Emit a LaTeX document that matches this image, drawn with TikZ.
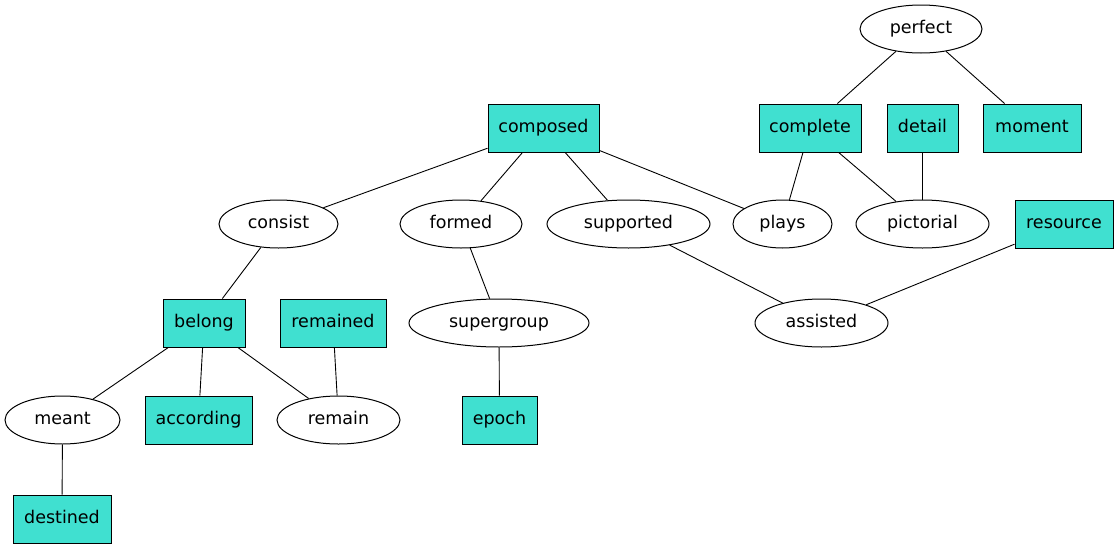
\documentclass[tikz,border=0pt]{standalone}
\usepackage{fontspec}
\setmainfont{DejaVu Sans}
\usetikzlibrary{shapes.geometric}
\definecolor{turq}{HTML}{40E0D0}
\begin{document}
\begin{tikzpicture}[x=1pt,y=-1pt,
  every node/.style={font=\fontsize{17.5}{20}\selectfont, inner sep=0pt, line width=1pt, text height=13pt, text depth=3.5pt},
  ell/.style={draw, ellipse, fill=white, minimum height=48pt},
  box/.style={draw, rectangle, fill=turq, minimum height=48pt},
  edge/.style={line width=0.9pt}]
\useasboundingbox (0,0) rectangle (1120,549);
\node[ell, minimum width=122pt] (perfect) at (921,29) {perfect};
\node[box, minimum width=111pt] (composed) at (543.5,128) {composed};
\node[box, minimum width=102pt] (complete) at (810,128) {complete};
\node[box, minimum width=71pt] (detail) at (922.5,128) {detail};
\node[box, minimum width=98pt] (moment) at (1032,128) {moment};
\node[ell, minimum width=119pt] (consist) at (278.5,224) {consist};
\node[ell, minimum width=122pt] (formed) at (461,224) {formed};
\node[ell, minimum width=163pt] (supported) at (628.5,224) {supported};
\node[ell, minimum width=99pt] (plays) at (782.5,224) {plays};
\node[ell, minimum width=133pt] (pictorial) at (922.5,224) {pictorial};
\node[box, minimum width=98pt] (resource) at (1064,224) {resource};
\node[box, minimum width=82pt] (belong) at (204,323) {belong};
\node[box, minimum width=106pt] (remained) at (333,323) {remained};
\node[ell, minimum width=180pt] (supergroup) at (499,323) {supergroup};
\node[ell, minimum width=133pt] (assisted) at (821.5,323) {assisted};
\node[ell, minimum width=115pt] (meant) at (62.5,420) {meant};
\node[box, minimum width=107pt] (according) at (198.5,420) {according};
\node[ell, minimum width=123pt] (remain) at (338.5,420) {remain};
\node[box, minimum width=75pt] (epoch) at (499.5,420) {epoch};
\node[box, minimum width=98pt] (destined) at (62,519) {destined};
\draw[edge] (perfect) -- (complete);
\draw[edge] (perfect) -- (moment);
\draw[edge] (composed) -- (consist);
\draw[edge] (composed) -- (formed);
\draw[edge] (composed) -- (supported);
\draw[edge] (composed) -- (plays);
\draw[edge] (complete) -- (plays);
\draw[edge] (complete) -- (pictorial);
\draw[edge] (detail) -- (pictorial);
\draw[edge] (consist) -- (belong);
\draw[edge] (formed) -- (supergroup);
\draw[edge] (supported) -- (assisted);
\draw[edge] (resource) -- (assisted);
\draw[edge] (belong) -- (meant);
\draw[edge] (belong) -- (according);
\draw[edge] (belong) -- (remain);
\draw[edge] (remained) -- (remain);
\draw[edge] (supergroup) -- (epoch);
\draw[edge] (meant) -- (destined);
\end{tikzpicture}
\end{document}
